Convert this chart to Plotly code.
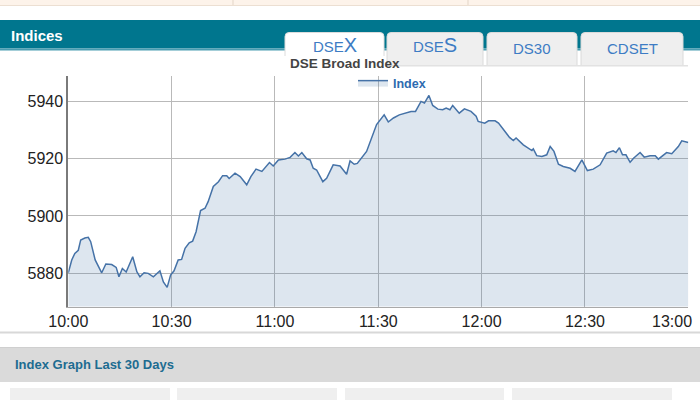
import pandas as pd
import plotly.graph_objects as go

# ---- data ----
session_start = "2015-01-01 10:00"
session_end = "2015-01-01 13:00"
minutes = [0.0, 1.0, 1.9, 2.9, 3.6, 4.8, 5.8, 6.5, 7.8, 9.7, 10.9, 12.6, 13.9, 14.7, 15.7,
           16.8, 18.7, 19.9, 20.8, 22.0, 23.2, 24.7, 26.6, 27.6, 28.7, 29.7, 30.7, 31.9,
           32.9, 33.9, 35.1, 36.1, 37.1, 38.4, 39.7, 40.6, 42.1, 43.6, 44.8, 46.0, 46.7,
           48.4, 49.9, 51.8, 53.0, 54.5, 56.2, 58.4, 59.5, 61.0, 62.9, 64.4, 65.8, 66.8,
           67.8, 69.2, 70.2, 71.1, 72.1, 73.9, 75.0, 76.9, 78.9, 80.8, 81.8, 83.0, 83.9,
           86.6, 89.5, 91.7, 92.9, 94.4, 96.1, 97.6, 99.5, 100.8, 102.4, 103.4, 104.7,
           105.8, 107.3, 108.7, 109.7, 110.8, 111.6, 113.5, 115.0, 116.9, 118.4, 119.0,
           120.9, 122.0, 123.9, 124.9, 126.8, 128.1, 129.2, 130.0, 132.1, 134.6, 135.0,
           136.0, 137.5, 138.9, 139.9, 141.0, 142.3, 143.7, 145.7, 147.1, 149.1, 150.7,
           152.4, 154.4, 156.3, 158.2, 159.0, 160.0, 160.9, 161.9, 163.1, 164.1, 166.0,
           167.2, 168.9, 170.4, 171.3, 173.7, 175.2, 177.1, 178.1, 180.0]
index_values = [5880.1, 5884.6, 5886.9, 5888.0, 5891.6, 5892.3, 5892.5, 5891.0, 5884.6, 5880.1,
                5883.2, 5883.0, 5882.0, 5878.7, 5881.6, 5880.4, 5885.7, 5880.5, 5878.7, 5880.1,
                5879.9, 5878.7, 5880.8, 5876.9, 5875.0, 5879.3, 5880.8, 5884.6, 5884.8, 5888.7,
                5890.6, 5891.2, 5894.5, 5901.9, 5902.7, 5905.0, 5910.3, 5912.0, 5914.1, 5914.1,
                5913.1, 5915.0, 5913.8, 5910.9, 5913.8, 5916.4, 5915.6, 5918.7, 5917.5, 5919.6,
                5919.9, 5920.5, 5922.2, 5921.0, 5922.2, 5920.0, 5919.6, 5916.7, 5916.1, 5912.0,
                5913.2, 5917.9, 5917.5, 5914.6, 5919.3, 5918.1, 5918.4, 5922.6, 5932.0, 5935.4,
                5932.9, 5934.3, 5935.4, 5936.0, 5936.6, 5936.6, 5940.1, 5939.5, 5942.2, 5938.7,
                5937.4, 5937.2, 5937.8, 5937.2, 5938.7, 5936.0, 5937.5, 5936.6, 5934.9, 5933.1,
                5932.5, 5933.3, 5933.3, 5932.5, 5929.6, 5927.5, 5926.4, 5927.3, 5924.9, 5922.9,
                5923.5, 5921.1, 5920.8, 5921.4, 5924.3, 5922.6, 5918.1, 5917.3, 5916.7, 5915.6,
                5919.6, 5915.9, 5916.4, 5917.9, 5922.0, 5922.8, 5922.2, 5923.9, 5921.4, 5921.4,
                5918.8, 5920.2, 5922.2, 5920.6, 5921.1, 5921.1, 5919.9, 5922.2, 5921.8, 5924.3,
                5926.3, 5925.7]
x_ticks = ["2015-01-01 10:00", "2015-01-01 10:30", "2015-01-01 11:00", "2015-01-01 11:30",
           "2015-01-01 12:00", "2015-01-01 12:30", "2015-01-01 13:00"]
x_tick_labels = ["10:00", "10:30", "11:00", "11:30", "12:00", "12:30", "13:00"]
y_ticks = [5880, 5900, 5920, 5940]
y_range = [5868.3, 5949.0]
tab_labels = ["DSE<span style='font-size:20px'>X</span>", "DSE<span style='font-size:20px'>S</span>",
              "DS30", "CDSET"]
series_name = "Index"
chart_title = "DSE Broad Index"
panel_title = "Indices"
section_title = "Index Graph Last 30 Days"

times = pd.Timestamp(session_start) + pd.to_timedelta(minutes, unit="m")

W, H = 700, 400
FONT = "Liberation Sans, Arial, sans-serif"


def px(x):
    return x / W


def py(y):
    return 1 - y / H


def rect(x0, y0, x1, y1, fill, line=None, lw=1):
    return dict(type="rect", xref="paper", yref="paper", x0=px(x0), x1=px(x1),
                y0=py(y1), y1=py(y0), fillcolor=fill,
                line=dict(color=line or fill, width=lw if line else 0), layer="above")


def hline(x0, x1, y, color, w=1):
    return dict(type="line", xref="paper", yref="paper", x0=px(x0), x1=px(x1),
                y0=py(y), y1=py(y), line=dict(color=color, width=w), layer="above")


def vline(x, y0, y1, color, w=1):
    return dict(type="line", xref="paper", yref="paper", x0=px(x), x1=px(x),
                y0=py(y0), y1=py(y1), line=dict(color=color, width=w), layer="above")


def tab(x0, x1, y0, y1, fill, line, r=4):
    X0, X1 = px(x0), px(x1)
    Y0, Y1 = py(y0), py(y1)
    rx, ry = r / W, r / H
    path = (f"M {X0},{Y1} L {X0},{Y0 - ry} Q {X0},{Y0} {X0 + rx},{Y0} "
            f"L {X1 - rx},{Y0} Q {X1},{Y0} {X1},{Y0 - ry} L {X1},{Y1}")
    return dict(type="path", xref="paper", yref="paper", path=path, fillcolor=fill,
                line=dict(color=line, width=1), layer="above")


fig = go.Figure()
fig.add_trace(go.Scatter(
    x=times, y=index_values, mode="lines", name=series_name,
    line=dict(color="#4572a7", width=1.5),
    fill="tozeroy", fillcolor="rgba(69,114,167,0.18)",
    hoverinfo="x+y",
))

shapes = [
    # top strip
    rect(0, 0, 700, 5, "#fdf3ea"),
    hline(0, 700, 5.5, "#ecdfd2", 1),
    vline(233, 0, 5, "#e3d5c7", 1),
    vline(468, 0, 5, "#e3d5c7", 1),
    # teal header
    rect(0, 20, 700, 48.5, "#00768e"),
    rect(0, 48.5, 700, 50.5, "#4a9db1"),
    # tabs
    tab(285, 384, 32.5, 56, "#ffffff", "#dcdcdc"),
    tab(387, 483, 32.5, 65, "#efefef", "#dadada"),
    tab(487, 577, 32.5, 65, "#efefef", "#dadada"),
    tab(581, 683, 32.5, 65, "#efefef", "#dadada"),
    hline(386, 688, 65.8, "#e2e2e2", 1.5),
    # bottom section
    hline(0, 700, 332.5, "#d8d8d8", 2),
    rect(0, 347, 700, 382, "#dadada"),
    hline(0, 700, 347.5, "#cfcfcf", 1),
    rect(10, 388, 170, 400, "#efefef"),
    rect(177, 388, 337, 400, "#efefef"),
    rect(345, 388, 504, 400, "#efefef"),
    rect(512, 388, 672, 400, "#efefef"),
]

tab_centers = [334.5, 435, 532, 632]
tab_y = [45, 45, 48, 48]
annotations = [
    dict(text=f"<b>{panel_title}</b>", x=px(9), y=py(36), xref="paper", yref="paper",
         xanchor="left", yanchor="middle", showarrow=False,
         font=dict(family=FONT, size=15, color="#ffffff")),
    dict(text=f"<b>{section_title}</b>", x=px(13), y=py(364), xref="paper", yref="paper",
         xanchor="left", yanchor="middle", showarrow=False,
         font=dict(family=FONT, size=13, color="#1d6c91")),
    dict(text=f"<b>{chart_title}</b>", x=px(288), y=py(63.5), xref="paper", yref="paper",
         xanchor="left", yanchor="middle", showarrow=False,
         font=dict(family=FONT, size=13.5, color="#444444")),
    # last tick label is pulled inside the plot edge (as in the reference)
    dict(text=x_tick_labels[-1], x=x_ticks[-1], y=0, xref="x", yref="y domain",
         xanchor="right", yanchor="top", yshift=-4, xshift=6, showarrow=False,
         font=dict(family=FONT, size=16, color="#222222")),
]
for label, cx, cy in zip(tab_labels, tab_centers, tab_y):
    annotations.append(dict(text=label, x=px(cx), y=py(cy), xref="paper", yref="paper",
                            xanchor="center", yanchor="middle", showarrow=False,
                            font=dict(family=FONT, size=15, color="#3d7cc4")))

fig.update_layout(
    width=W, height=H, autosize=False,
    margin=dict(l=0, r=0, t=0, b=0, autoexpand=False),
    paper_bgcolor="#ffffff", plot_bgcolor="rgba(0,0,0,0)",
    font=dict(family=FONT, size=16, color="#222222"),
    showlegend=True,
    legend=dict(x=px(353), y=py(83), xanchor="left", yanchor="middle",
                orientation="h", bgcolor="rgba(0,0,0,0)", borderwidth=0,
                font=dict(family=FONT, size=12.5, color="#2e6bb0", weight="bold"),
                itemwidth=30),
    shapes=shapes,
    annotations=annotations,
    xaxis=dict(
        type="date", domain=[px(68.3), px(688.3)],
        range=[session_start, session_end], automargin=False,
        tickvals=x_ticks, ticktext=x_tick_labels[:-1] + [""],
        showgrid=True, gridcolor="#b9b9b9", gridwidth=1,
        showline=True, linecolor="#a9a9a9", linewidth=1,
        ticks="", zeroline=False, fixedrange=True,
        tickfont=dict(family=FONT, size=16, color="#222222"),
    ),
    yaxis=dict(
        domain=[py(306.5), py(76)], automargin=False,
        range=y_range, tickvals=y_ticks,
        showgrid=True, gridcolor="#b9b9b9", gridwidth=1,
        showline=True, linecolor="#7a7a7a", linewidth=2,
        ticks="", zeroline=False, fixedrange=True,
        tickfont=dict(family=FONT, size=16, color="#222222"),
    ),
)

fig.write_html(
    "out.html",
    config={"displayModeBar": False},
    post_script="document.body.style.margin='0';document.body.style.padding='0';"
                "document.body.style.overflow='hidden';",
)
